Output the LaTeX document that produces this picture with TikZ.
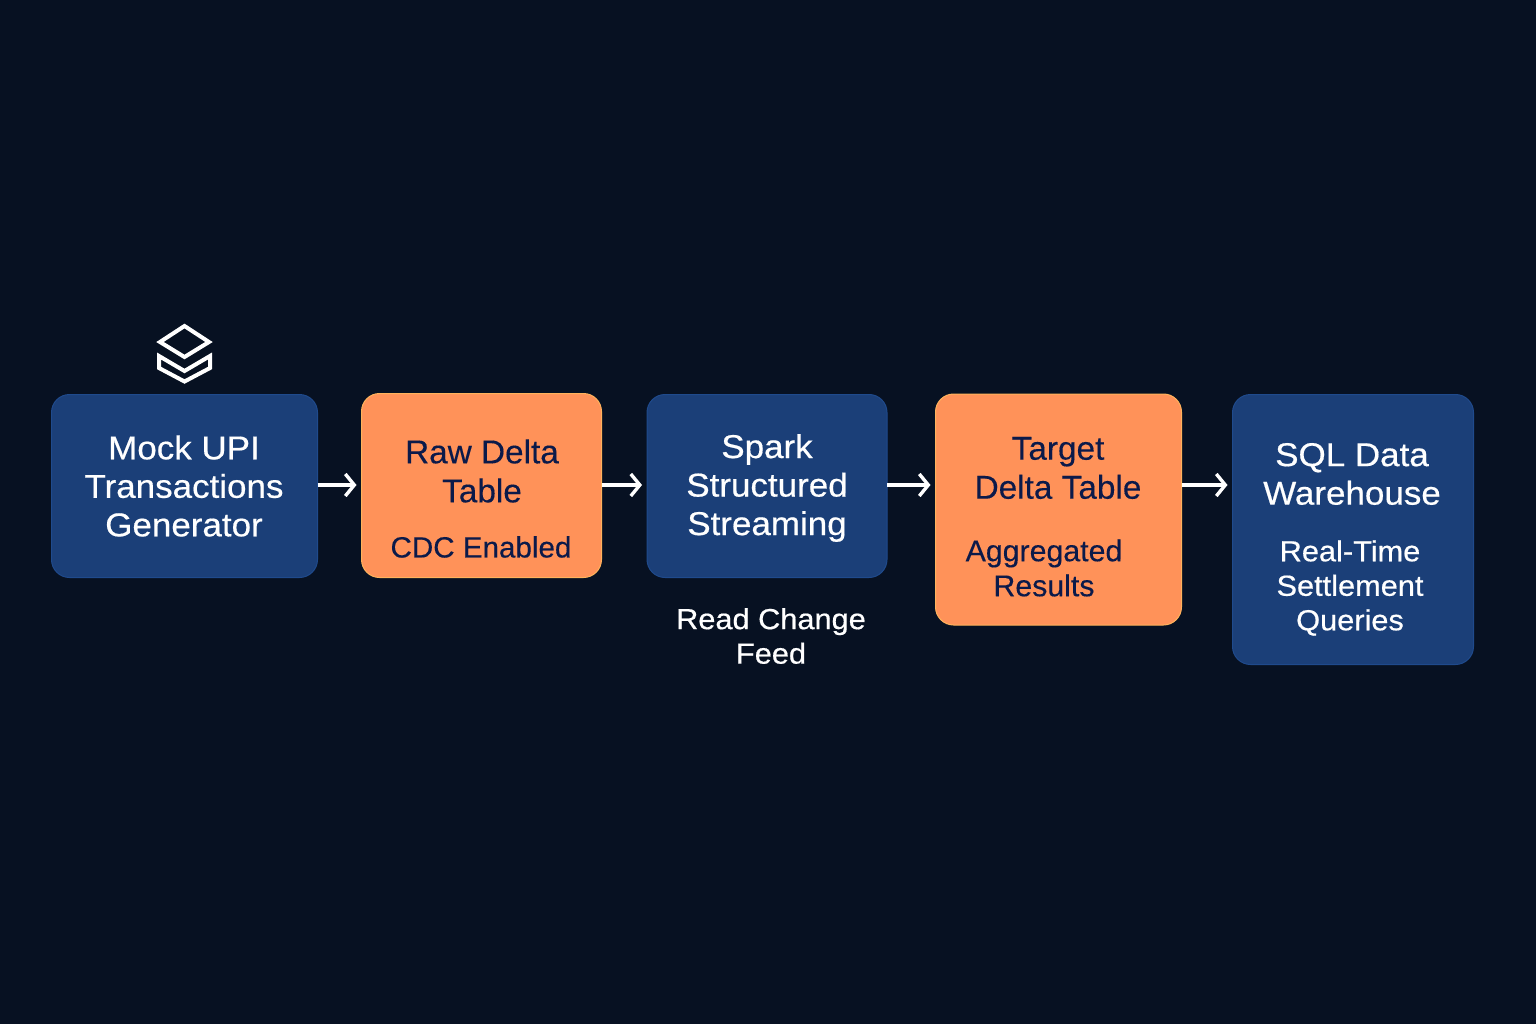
\documentclass[tikz,border=0pt]{standalone}
\usepackage{fontspec}
\setmainfont{Liberation Sans}
\newfontfamily\lightface[FakeStretch=1.06,FakeBold=0.5]{Liberation Sans}
\newfontfamily\darkface[FakeStretch=1.01,FakeBold=0.25]{Liberation Sans}
\usetikzlibrary{arrows.meta}
\definecolor{bgc}{HTML}{071122}
\definecolor{bluebox}{HTML}{1B3F78}
\definecolor{blueedge}{HTML}{1F4A8C}
\definecolor{orangebox}{HTML}{FF9259}
\definecolor{orangeedge}{HTML}{FFB35C}
\definecolor{inkdark}{HTML}{0B1A4A}
\tikzset{
  x=1pt,y=-1pt,
  boxbase/.style={anchor=north west,rounded corners=18pt,inner sep=0pt,outer sep=0pt,line width=1pt},
  bluenode/.style={boxbase,fill=bluebox,draw=blueedge},
  orangenode/.style={boxbase,fill=orangebox,draw=orangeedge},
  lighttext/.style={text=white,align=center,inner sep=0pt,font=\lightface\fontsize{33}{38.5}\selectfont},
  darktext/.style={text=inkdark,align=center,inner sep=0pt,font=\darkface\fontsize{33}{39}\selectfont},
  lightsub/.style={text=white,align=center,inner sep=0pt,font=\lightface\fontsize{29}{34.5}\selectfont},
  darksub/.style={text=inkdark,align=center,inner sep=0pt,font=\darkface\fontsize{30}{35}\selectfont},
  flowarrow/.style={draw=white,line width=3.4pt,-{Straight Barb[length=9pt,width=22pt,line width=3.4pt]},shorten >=5pt},
  stackicon/.style={white,line width=4pt,line join=miter},
}
\begin{document}
\begin{tikzpicture}
\useasboundingbox (0,0) rectangle (1536,1024);
\fill[bgc] (0,0) rectangle (1536,1024);
\coordinate (flow) at (0,485);
\node[bluenode,minimum width=266pt,minimum height=183pt] (gen) at (51.5,394.5) {};
\node[orangenode,minimum width=240pt,minimum height=184pt] (raw) at (361.5,393.5) {};
\node[bluenode,minimum width=240pt,minimum height=183pt] (spark) at (647,394.5) {};
\node[orangenode,minimum width=246pt,minimum height=231pt] (target) at (935.5,394) {};
\node[bluenode,minimum width=241pt,minimum height=270pt] (sql) at (1232.5,394.5) {};
\node[lighttext] (gentext) at (184,486) {Mock UPI\\Transactions\\Generator};
\node[darktext] (rawtext) at (482,471) {Raw Delta\\Table};
\node[darksub] (rawsub) at (481,547) {\fontsize{29.3}{35}\selectfont CDC Enabled};
\node[lighttext] (sparktext) at (767,488) {Spark\\Structured\\Streaming};
\node[lightsub] (sparksub) at (771,636) {Read Change\\Feed};
\node[darktext] (targettext) at (1058,468) {Target\\Delta Table};
\node[darksub] (targetsub) at (1044,568) {Aggregated\\Results};
\node[lighttext] (sqltext) at (1352,474) {SQL Data\\Warehouse};
\node[lightsub] (sqlsub) at (1350,588) {Real-Time\\Settlement\\Queries};
\draw[flowarrow] (gen.east |- flow) -- (raw.west |- flow);
\draw[flowarrow] (raw.east |- flow) -- (spark.west |- flow);
\draw[flowarrow] (spark.east |- flow) -- (target.west |- flow);
\draw[flowarrow] (target.east |- flow) -- (sql.west |- flow);
\draw[stackicon] (184.5,326) -- (209,342) -- (184.5,357) -- (160,342) -- cycle;
\draw[stackicon] (159,356) -- (159,368) -- (184.5,381.5) -- (210,368) -- (210,356) -- (184.5,371) -- cycle;
\end{tikzpicture}
\end{document}
